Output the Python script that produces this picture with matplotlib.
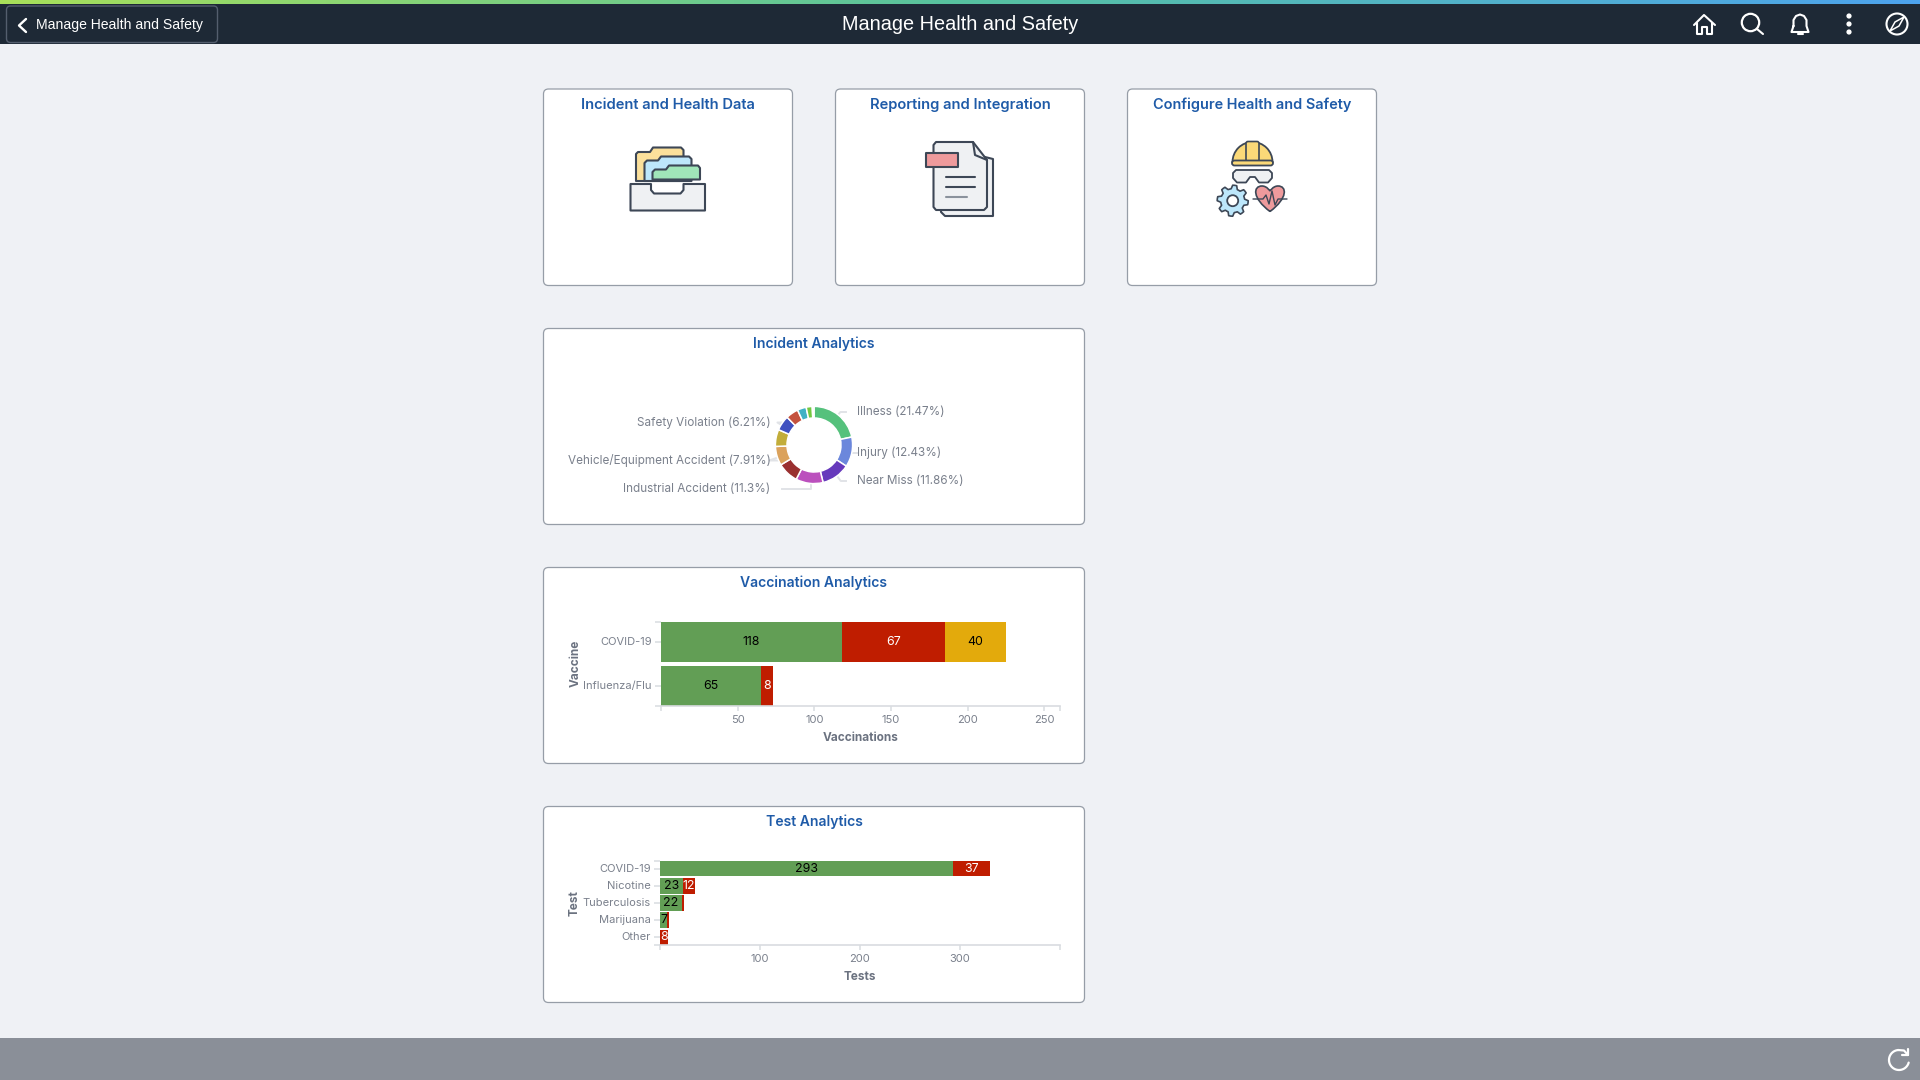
import numpy as np
import matplotlib
matplotlib.use('Agg')
import matplotlib.pyplot as plt
from matplotlib.colors import LinearSegmentedColormap
from matplotlib.patches import Circle, FancyBboxPatch, PathPatch, Polygon, Rectangle, Wedge
from matplotlib.path import Path

# 1. Data
incident_values = [21.47, 12.43, 11.86, 11.3, 8.7, 7.91, 7.0, 6.21, 5.2, 3.7, 2.5, 0.72]
incident_colors = ['#55c17c', '#6b87dc', '#6639bc', '#bb50bd', '#9a3030', '#dba25c',
                   '#c2ad3a', '#3f50c0', '#c4533f', '#3fb1c4', '#73c73f', '#e6dcea']
incident_labels = {0: 'Illness (21.47%)', 1: 'Injury (12.43%)', 2: 'Near Miss (11.86%)',
                   3: 'Industrial Accident (11.3%)', 5: 'Vehicle/Equipment Accident (7.91%)',
                   7: 'Safety Violation (6.21%)'}

vaccines = ['COVID-19', 'Influenza/Flu']
vaccine_green = [118, 65]
vaccine_red = [67, 8]
vaccine_amber = [40, 0]
vaccine_ticks = [50, 100, 150, 200, 250]

tests = ['COVID-19', 'Nicotine', 'Tuberculosis', 'Marijuana', 'Other']
test_green = [293, 23, 22, 7, 0]
test_red = [37, 12, 2, 2, 8]
test_ticks = [100, 200, 300]

# 2. Colours
DARK = '#1e2936'
PAGE = '#eff1f5'
FOOT = '#8a8f98'
BLUE = '#1f5ba8'
CARD_EDGE = '#969da7'
GRID = '#d9dce0'
TICK_TEXT = '#7a808c'
AXIS_TEXT = '#6b7280'
GREEN = '#629e55'
RED = '#bf1d00'
AMBER = '#e3aa0c'
INK = '#3d4756'

W, H = 1920, 1080
plt.rcParams['font.family'] = ['Inter', 'DejaVu Sans']
fig = plt.figure(figsize=(19.2, 10.8), dpi=100, facecolor=PAGE)

# page layer, coordinates are pixels from the top left
page = fig.add_axes([0, 0, 1, 1], zorder=0)
page.set_xlim(0, W)
page.set_ylim(H, 0)
page.axis('off')


def px_axes(x0, y0, x1, y1):
    ax = fig.add_axes([x0 / W, 1 - y1 / H, (x1 - x0) / W, (y1 - y0) / H], zorder=2)
    ax.patch.set_alpha(0)
    return ax


def card(x0, y0, x1, y1, title, size, title_dy=15.5):
    page.add_patch(FancyBboxPatch((x0, y0), x1 - x0, y1 - y0, boxstyle='round,pad=0,rounding_size=5',
                                  fc='white', ec=CARD_EDGE, lw=0.9, zorder=1))
    page.text((x0 + x1) / 2, y0 + title_dy, title, color=BLUE, fontsize=size, fontweight='semibold',
              ha='center', va='center', zorder=3)


def poly(points, fc, ec=INK, lw=1.5, z=4):
    page.add_patch(Polygon(points, closed=True, fc=fc, ec=ec, lw=lw, joinstyle='round', zorder=z))


def line(xs, ys, color=INK, lw=1.5, z=5):
    page.plot(xs, ys, color=color, lw=lw, zorder=z, solid_capstyle='round', solid_joinstyle='round')


# 3. Header and footer
page.add_patch(Rectangle((0, 0), W, 44, fc=DARK, ec='none'))
page.add_patch(Rectangle((0, 1038), W, 42, fc=FOOT, ec='none'))
strip = LinearSegmentedColormap.from_list('strip', ['#a8e05a', '#57c2a0', '#4da3ee'])
page.imshow(np.linspace(0, 1, 400).reshape(1, -1), cmap=strip, extent=(0, W, 4, 0),
            aspect='auto', zorder=2)
page.set_xlim(0, W)
page.set_ylim(H, 0)

page.add_patch(FancyBboxPatch((6.5, 6), 211, 36.5, boxstyle='round,pad=0,rounding_size=4',
                              fc=DARK, ec='#545e6e', lw=1.0, zorder=3))
line([26, 19, 26], [19, 25.5, 32], color='white', lw=1.7)
page.text(36, 25.5, 'Manage Health and Safety', color='white', fontsize=10.1, family='Liberation Sans',
          ha='left', va='center', zorder=5)
page.text(960, 25, 'Manage Health and Safety', color='white', fontsize=14.3, family='Liberation Sans',
          ha='center', va='center', zorder=5)

# home
line([1694, 1704, 1715], [25, 15, 25], color='white')
line([1697, 1697, 1702, 1702, 1707, 1707, 1712, 1712], [23, 33.5, 33.5, 27, 27, 33.5, 33.5, 23], color='white')
# search
page.add_patch(Circle((1750.5, 22.5), 8.7, fc='none', ec='white', lw=1.6, zorder=5))
line([1757, 1763], [29, 34], color='white')
# bell
line([1793.5, 1793.5, 1796, 1800, 1804, 1806.5, 1806.5, 1808.5, 1791.5, 1793.5],
     [26, 20, 16, 14.5, 16, 20, 26, 32, 32, 26], color='white')
line([1797.5, 1802.5], [34, 34], color='white')
# dots
for dot_y in [16, 24, 32]:
    page.add_patch(Circle((1849, dot_y), 2.6, fc='white', ec='none', zorder=5))
# compass
page.add_patch(Circle((1897, 24), 10.5, fc='none', ec='white', lw=1.5, zorder=5))
poly([(1904, 17), (1899, 26), (1890, 31), (1895, 22)], fc='none', ec='white', lw=1.1, z=5)
# refresh
theta = np.radians(np.linspace(15, 265, 60))
line(1899 + 10 * np.cos(theta), 1060 + 10 * np.sin(theta), color='white', lw=1.6)
line([1898, 1904, 1908], [1050, 1050.5, 1055], color='white', lw=1.6)
line([1908, 1908, 1902], [1049, 1055, 1055], color='white', lw=1.6)

# 4. Cards
card(543.5, 89, 792.5, 285.5, 'Incident and Health Data', 10.6, 16.2)
card(835.5, 89, 1084.5, 285.5, 'Reporting and Integration', 10.6, 16.2)
card(1127.5, 89, 1376.5, 285.5, 'Configure Health and Safety', 10.45, 16.2)
card(543.5, 328.5, 1084.5, 524.5, 'Incident Analytics', 10.05)
card(543.5, 567.5, 1084.5, 763.5, 'Vaccination Analytics', 10.05)
card(543.5, 806.5, 1084.5, 1002.5, 'Test Analytics', 10.05)

# folder icon
poly([(636, 181), (636, 154), (638, 152), (650, 152), (653, 147.5), (681, 147.5), (683.5, 150), (683.5, 181)], '#fbe09b')
poly([(644.5, 181), (644.5, 163), (647, 160.5), (658, 160.5), (661, 156.5), (689, 156.5), (691.5, 159), (691.5, 181)], '#bde7fb')
poly([(652.5, 179.5), (652.5, 172), (655, 169.5), (666, 169.5), (669, 165.5), (698, 165.5), (700, 168), (700, 179.5)], '#a0e6b9')
poly([(630.5, 184), (651, 184), (651, 190), (654, 193.5), (680.5, 193.5), (683.5, 190), (683.5, 184), (705, 184), (705, 210.5), (630.5, 210.5)], '#eff1f3', z=6)

# document icon
poly([(941, 165), (941, 212), (945, 216), (993, 216), (993, 159), (985, 157)], '#eff1f3')
poly([(933.5, 145), (936, 142), (973, 142), (987, 160), (987, 207), (984, 210), (936, 210), (933.5, 207)], '#eff1f3', z=5)
line([973, 975, 987], [142, 155, 160], z=6)
poly([(926, 153), (958, 153), (958, 166.5), (926, 166.5)], '#ee9a9c', z=6)
line([945.5, 975], [176.7, 176.7], z=6)
line([945.5, 975], [186.7, 186.7], z=6)
line([945.5, 966.5], [196.7, 196.7], color='#8a929c', z=6)

# health and safety icon
page.add_patch(Wedge((1252.5, 162), 20, 180, 360, fc='#fbd978', ec=INK, lw=1.3, zorder=4))
page.add_patch(FancyBboxPatch((1246, 141.5), 13, 20, boxstyle='round,pad=0,rounding_size=2', fc='#fbd978', ec=INK, lw=1.2, zorder=5))
page.add_patch(FancyBboxPatch((1232, 160.5), 41, 5, boxstyle='round,pad=0,rounding_size=2.5', fc='#fbd978', ec=INK, lw=1.3, zorder=6))
poly([(1236, 170), (1269, 170), (1272, 173), (1272, 178), (1268, 182.5), (1259, 182.5), (1255, 177), (1250, 177), (1246, 182.5), (1237, 182.5), (1233, 178), (1233, 173)], '#eff1f3', lw=1.3)
gear_angle = np.radians(np.arange(0, 360, 7.5))
gear_r = np.where((np.arange(48) % 6) < 3, 15.5, 12)
poly(np.column_stack([1232.7 + gear_r * np.cos(gear_angle), 200.7 + gear_r * np.sin(gear_angle)]), '#bde7fb', lw=1.2)
page.add_patch(Circle((1232.7, 200.7), 5.5, fc='white', ec=INK, lw=1.3, zorder=5))
heart = Path([(1270, 211.5), (1252, 198), (1253, 186), (1262, 186), (1267, 186), (1270, 191), (1270, 191),
              (1270, 191), (1273, 186), (1278, 186), (1287, 186), (1288, 198), (1270, 211.5)],
             [Path.MOVETO, Path.CURVE4, Path.CURVE4, Path.CURVE4, Path.CURVE4, Path.CURVE4, Path.CURVE4,
              Path.CURVE4, Path.CURVE4, Path.CURVE4, Path.CURVE4, Path.CURVE4, Path.CURVE4])
page.add_patch(PathPatch(heart, fc='#ee9a9c', ec=INK, lw=1.2, zorder=4))
line([1253, 1263, 1266, 1269, 1272, 1275, 1278, 1287], [199, 199, 195, 204, 191, 205, 199, 199], lw=1.0)

# 5. Incident donut
donut = px_axes(774, 405, 854, 485)
donut.pie(incident_values, colors=incident_colors, startangle=90, counterclock=False, radius=1.03,
          wedgeprops=dict(width=0.31, edgecolor='white', linewidth=1.1))
donut.set_xlim(-1.067, 1.067)
donut.set_ylim(-1.067, 1.067)

label_spots = {0: (857, 412, 846), 1: (857, 452.5, 857), 2: (857, 481, 846),
               3: (770.5, 489, 782), 5: (770.5, 460.5, 784), 7: (770.5, 422.5, 782)}
cum = np.cumsum(incident_values)
for i, text in incident_labels.items():
    tx, ty, elbow = label_spots[i]
    mid = np.radians((cum[i] - incident_values[i] / 2) * 3.6)
    sx, sy = 814 + 32 * np.sin(mid), 445 - 32 * np.cos(mid)
    mid_x = sx if i in (1, 3) else sx - (ty - sy) * np.tan(mid)
    page.plot([sx, mid_x, elbow], [sy, ty, ty], color='#e1e3e7', lw=1.4, zorder=2)
    page.text(tx, ty, text, color=TICK_TEXT, fontsize=8.45, va='center',
              ha='left' if tx > 814 else 'right', zorder=3)


# 6. Stacked bars
def stacked(ax, cats, series, ticks, xmax, bar_h, ylim, xlabel, ylabel, min_label):
    y = np.arange(len(cats))
    left = np.zeros(len(cats))
    for vals, color, text_color in series:
        bars = ax.barh(y, vals, left=left, height=bar_h, color=color, edgecolor='none')
        ax.bar_label(bars, labels=[str(v) if v >= min_label else '' for v in vals], label_type='center',
                     color=text_color, fontsize=8.9)
        left = left + np.array(vals)
    ax.set_xlim(0, xmax)
    ax.set_ylim(*ylim)
    ax.set_yticks(y, cats)
    ax.set_yticks(ylim, minor=True)
    ax.set_xticks(ticks)
    ax.set_xticks([0, xmax], minor=True)
    for side in ['top', 'right', 'left']:
        ax.spines[side].set_visible(False)
    ax.spines['bottom'].set_color(GRID)
    ax.spines['bottom'].set_linewidth(1.2)
    ax.tick_params(axis='both', which='both', color=GRID, labelcolor=TICK_TEXT, labelsize=8.0, width=1.1)
    ax.tick_params(axis='y', which='both', length=4.5, pad=2)
    ax.tick_params(axis='x', which='both', length=3.5, pad=3)
    for tick_label in ax.get_yticklabels():
        tick_label.set_va('center')
    ax.set_xlabel(xlabel, color=AXIS_TEXT, fontsize=8.5, fontweight='bold', va='center')
    ax.set_ylabel(ylabel, color=AXIS_TEXT, fontsize=8.5, fontweight='bold', va='center')
    ax.xaxis.set_label_coords(0.5, -0.375)
    ax.yaxis.set_label_coords(-0.214, 0.505)


vacc_ax = px_axes(661, 622, 1060, 706.3)
stacked(vacc_ax, vaccines,
        [(vaccine_green, GREEN, 'black'), (vaccine_red, RED, 'white'), (vaccine_amber, AMBER, 'black')],
        vaccine_ticks, 260.3, 0.9, (1.45, -0.45), 'Vaccinations', 'Vaccine', 5)

test_ax = px_axes(660, 861, 1060, 945.3)
stacked(test_ax, tests,
        [(test_green, GREEN, 'black'), (test_red, RED, 'white')],
        test_ticks, 400, 0.91, (4.46, -0.44), 'Tests', 'Test', 5)

plt.savefig('out.png', dpi=100, facecolor=fig.get_facecolor())
